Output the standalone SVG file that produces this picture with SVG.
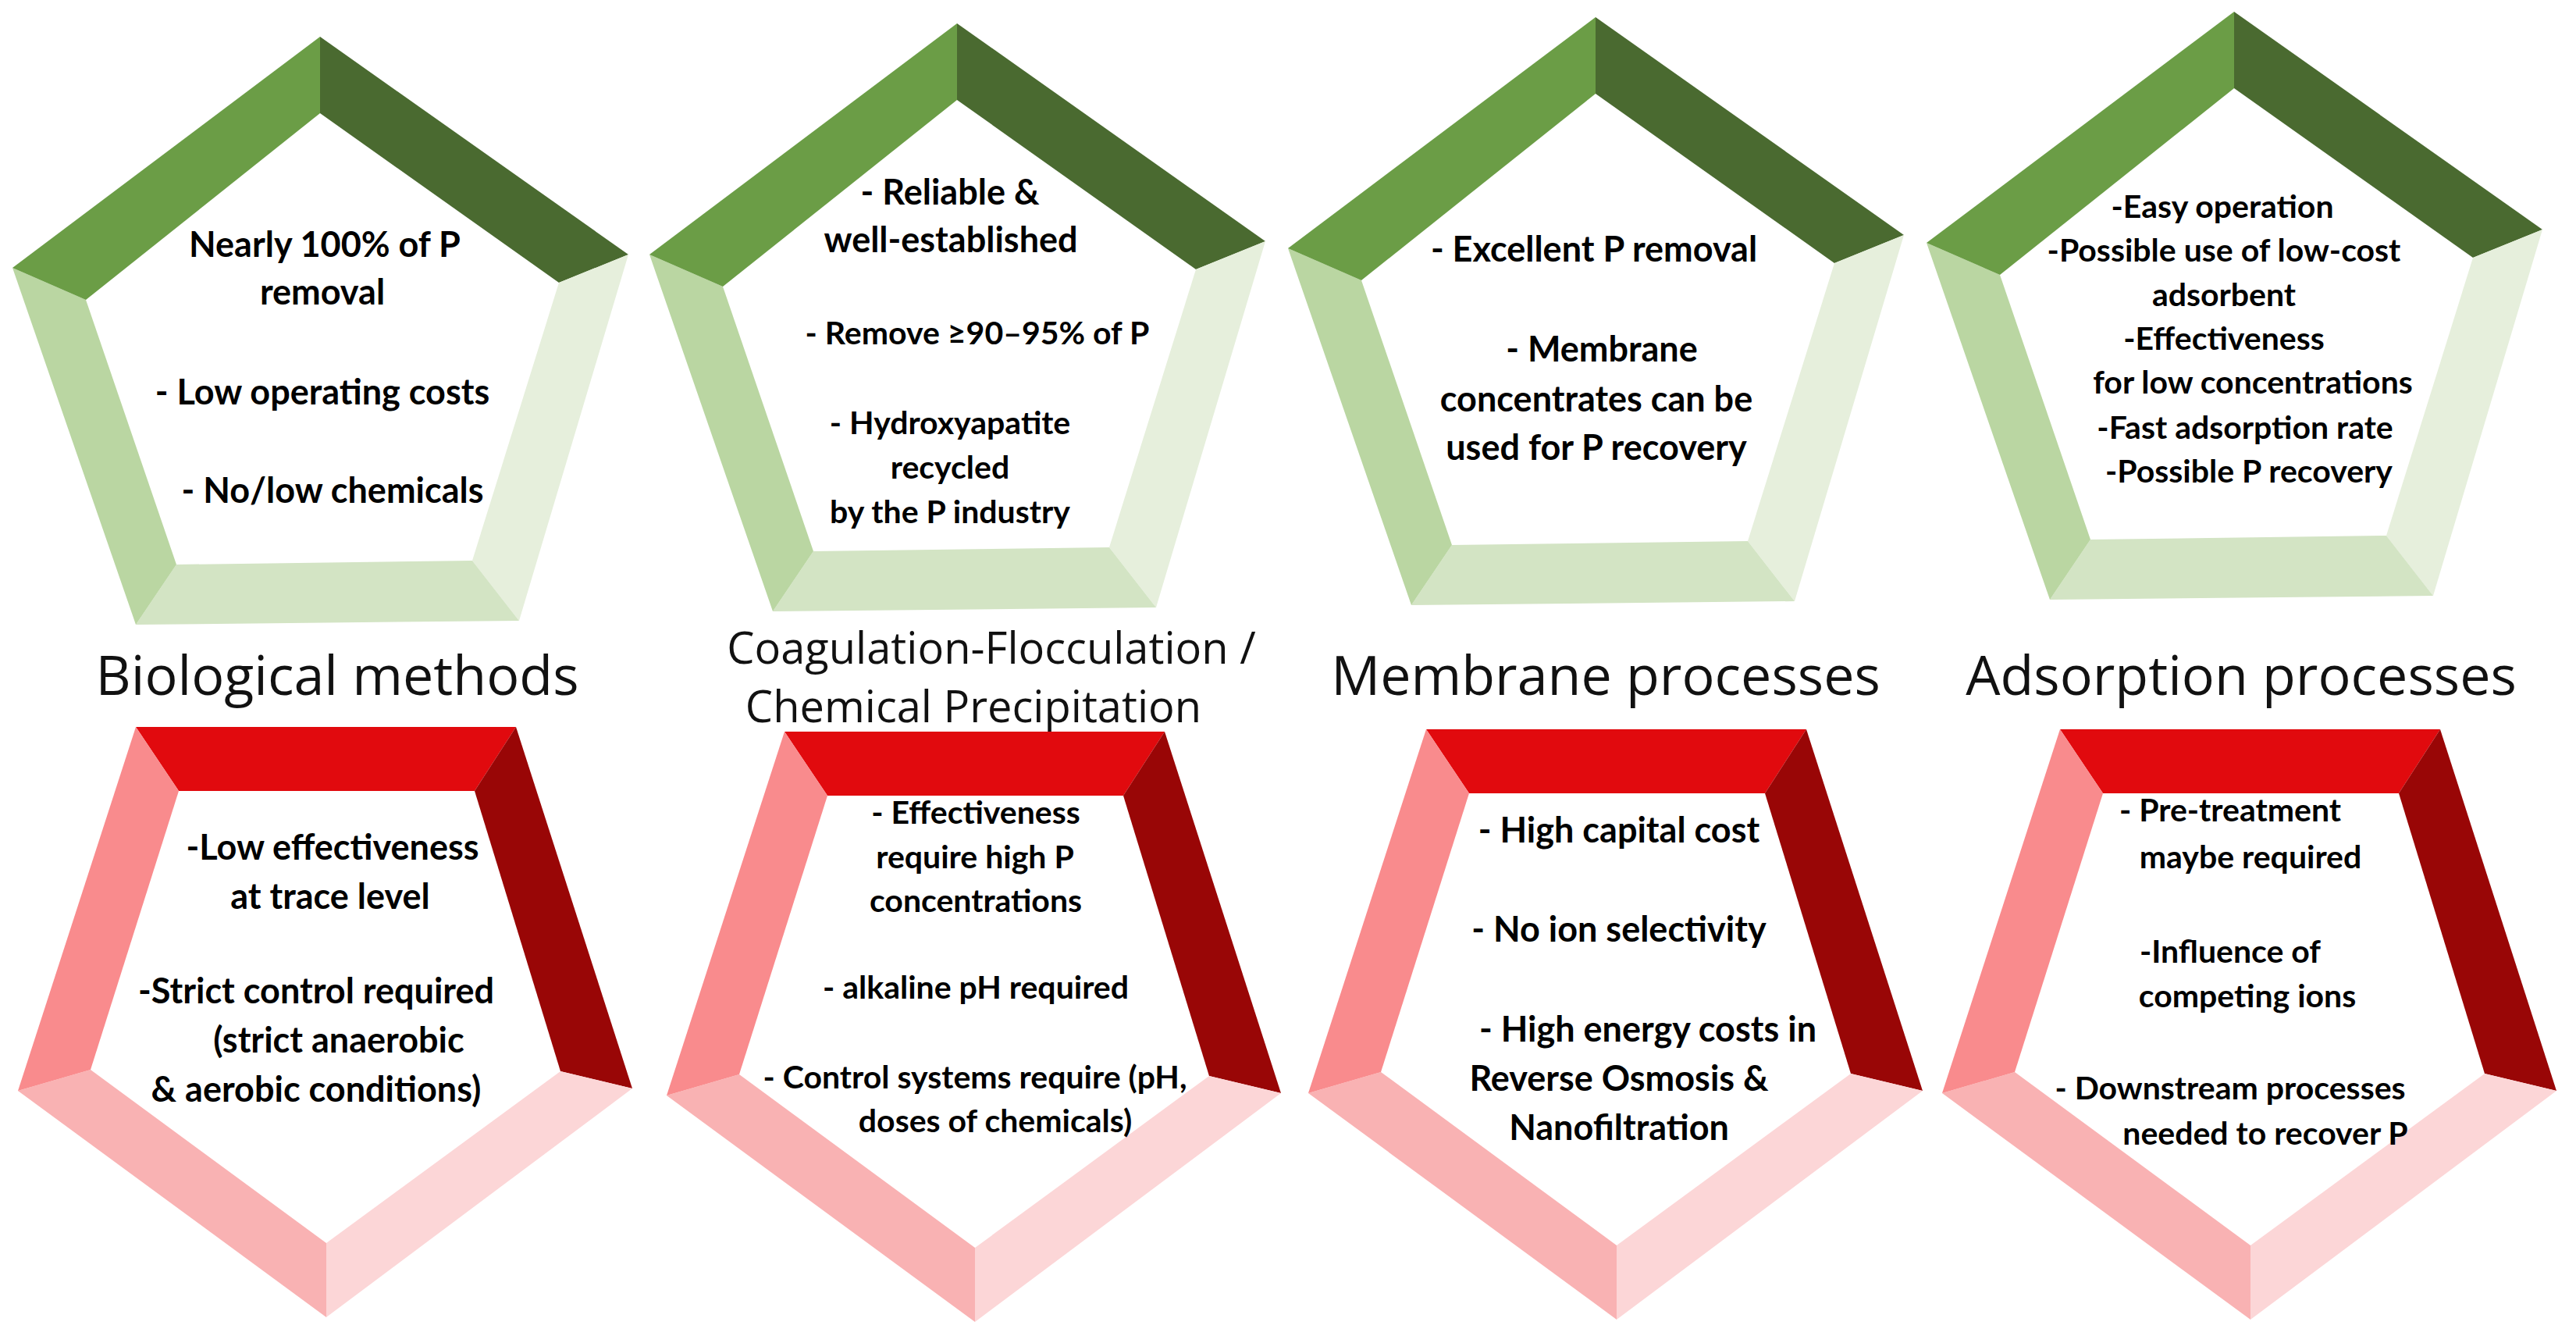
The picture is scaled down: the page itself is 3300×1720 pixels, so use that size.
<svg xmlns="http://www.w3.org/2000/svg" xmlns:xlink="http://www.w3.org/1999/xlink" width="3300" height="1720" viewBox="0 0 3300 1720">
<style>
.t{font-family:Lato,"Open Sans","Liberation Sans",sans-serif;font-weight:700;fill:#000;text-anchor:middle}
.s44{font-size:45px}.s40{font-size:41px}
.ttl{font-family:"Open Sans","Liberation Sans",sans-serif;font-weight:400;fill:#111;text-anchor:middle}
</style>
<defs>
<g id="gp">
<polygon points="0,0 395,279 306,315 0,98" fill="#4a6a30"/>
<polygon points="395,279 255,748 195,671 306,315" fill="#e6efdc"/>
<polygon points="255,748 -236,753 -184,676 195,671" fill="#d3e4c4"/>
<polygon points="-236,753 -394,296 -300,337 -184,676" fill="#bad6a2"/>
<polygon points="-394,296 0,0 0,98 -300,337" fill="#6b9d46"/>
</g>
<g id="rp">
<polygon points="-244,-756 243,-756 190,-674 -189,-674" fill="#e10a0e"/>
<polygon points="243,-756 392,-293 300,-315 190,-674" fill="#990606"/>
<polygon points="392,-293 0,0 0,-95 300,-315" fill="#fcd6d7"/>
<polygon points="0,0 -395,-290 -302,-317 0,-95" fill="#f9b2b3"/>
<polygon points="-395,-290 -244,-756 -189,-674 -302,-317" fill="#f98b8d"/>
</g>
</defs>
<rect width="3300" height="1720" fill="#fff"/>

<g id="pros-bio">
<use xlink:href="#gp" href="#gp" transform="translate(410,47)"/>
<text class="t s44" x="416" y="329">Nearly 100% of P</text>
<text class="t s44" x="413" y="390">removal</text>
<text class="t s44" x="413" y="518">- Low operating costs</text>
<text class="t s44" x="426" y="644">- No/low chemicals</text>
</g>
<g id="pros-coag">
<use xlink:href="#gp" href="#gp" transform="translate(1226,30)"/>
<text class="t s44" x="1217" y="262">- Reliable &amp;</text>
<text class="t s44" x="1218" y="323">well-established</text>
<text class="t s40" x="1252" y="441">- Remove ≥90–95% of P</text>
<text class="t s40" x="1217" y="556">- Hydroxyapatite</text>
<text class="t s40" x="1217" y="613">recycled</text>
<text class="t s40" x="1217" y="670">by the P industry</text>
</g>
<g id="pros-mem">
<use xlink:href="#gp" href="#gp" transform="translate(2044,22)"/>
<text class="t s44" x="2042" y="335">- Excellent P removal</text>
<text class="t s44" x="2052" y="463">- Membrane</text>
<text class="t s44" x="2045" y="527">concentrates can be</text>
<text class="t s44" x="2045" y="589">used for P recovery</text>
</g>
<g id="pros-ads">
<use xlink:href="#gp" href="#gp" transform="translate(2862,15)"/>
<text class="t s40" x="2847" y="279">-Easy operation</text>
<text class="t s40" x="2849" y="335">-Possible use of low-cost</text>
<text class="t s40" x="2849" y="392">adsorbent</text>
<text class="t s40" x="2849" y="448">-Effectiveness</text>
<text class="t s40" x="2886" y="504">for low concentrations</text>
<text class="t s40" x="2876" y="562">-Fast adsorption rate</text>
<text class="t s40" x="2881" y="618">-Possible P recovery</text>
</g>

<g id="titles">
<text class="ttl" x="432" y="890" font-size="70">Biological methods</text>
<text class="ttl" x="1270" y="850" font-size="56">Coagulation-Flocculation /</text>
<text class="ttl" x="1247" y="925" font-size="56">Chemical Precipitation</text>
<text class="ttl" x="2057" y="890" font-size="70">Membrane processes</text>
<text class="ttl" x="2871" y="890" font-size="70">Adsorption processes</text>
</g>

<g id="cons-bio">
<use xlink:href="#rp" href="#rp" transform="translate(418,1687)"/>
<text class="t s44" x="426" y="1101">-Low effectiveness</text>
<text class="t s44" x="423" y="1164">at trace level</text>
<text class="t s44" x="405" y="1285">-Strict control required</text>
<text class="t s44" x="434" y="1348">(strict anaerobic</text>
<text class="t s44" x="405" y="1411">&amp; aerobic conditions)</text>
</g>
<g id="cons-coag">
<use xlink:href="#rp" href="#rp" transform="translate(1249,1693)"/>
<text class="t s40" x="1250" y="1055">- Effectiveness</text>
<text class="t s40" x="1249" y="1112">require high P</text>
<text class="t s40" x="1250" y="1168">concentrations</text>
<text class="t s40" x="1250" y="1279">- alkaline pH required</text>
<text class="t s40" x="1249" y="1394">- Control systems require (pH,</text>
<text class="t s40" x="1275" y="1450">doses of chemicals)</text>
</g>
<g id="cons-mem">
<use xlink:href="#rp" href="#rp" transform="translate(2071,1690)"/>
<text class="t s44" x="2074" y="1079">- High capital cost</text>
<text class="t s44" x="2074" y="1206">- No ion selectivity</text>
<text class="t s44" x="2111" y="1334">- High energy costs in</text>
<text class="t s44" x="2074" y="1397">Reverse Osmosis &amp;</text>
<text class="t s44" x="2074" y="1460">Nanofiltration</text>
</g>
<g id="cons-ads">
<use xlink:href="#rp" href="#rp" transform="translate(2883,1690)"/>
<text class="t s40" x="2857" y="1052">- Pre-treatment</text>
<text class="t s40" x="2883" y="1112">maybe required</text>
<text class="t s40" x="2857" y="1233">-Influence of</text>
<text class="t s40" x="2879" y="1290">competing ions</text>
<text class="t s40" x="2857" y="1408">- Downstream processes</text>
<text class="t s40" x="2902" y="1466">needed to recover P</text>
</g>
<g id="connectors"/>
</svg>
